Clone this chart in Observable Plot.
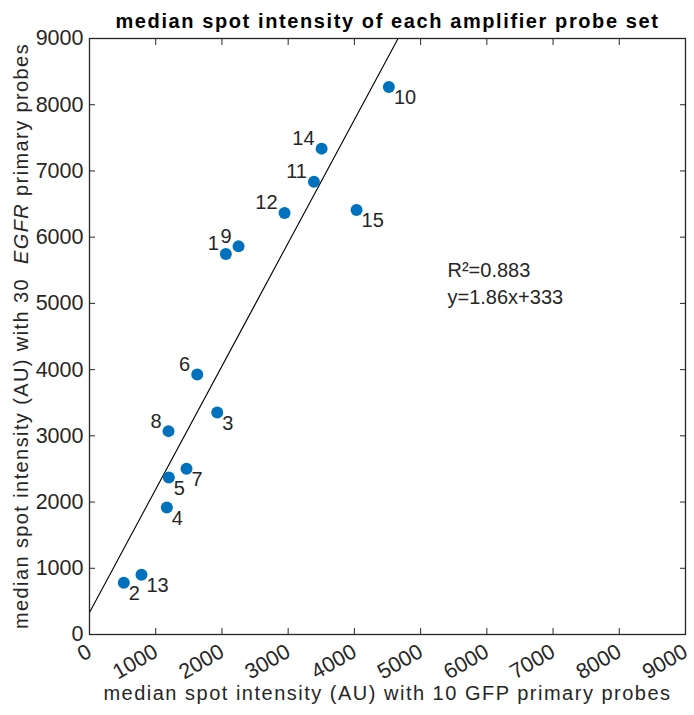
<!DOCTYPE html>
<html><head><meta charset="utf-8">
<script src="https://cdn.jsdelivr.net/npm/d3@7"></script>
<script src="https://cdn.jsdelivr.net/npm/@observablehq/plot@0.6"></script>
<style>
body{margin:0;background:#fff;}
svg{font-family:"Liberation Sans",Arial,Helvetica,sans-serif;}
</style>
</head><body><div id="chart"></div>
<script>
// Probe set ids and median spot intensities (AU)
const ids  = [1, 2, 3, 4, 5, 6, 7, 8, 9, 10, 11, 12, 13, 14, 15];
const gfp  = [2059, 518, 1929, 1168, 1198, 1627, 1465, 1193, 2251, 4521, 3389, 2946, 785, 3505, 4033];
const egfr = [5745, 781, 3353, 1918, 2372, 3927, 2503, 3071, 5861, 8267, 6838, 6364, 902, 7337, 6410];
// labels placed up-left of their point (the rest go down-right)
const leftLabelIds = [1, 6, 8, 9, 11, 12, 14];
// fit
const fitSlope = 1.86;
const fitIntercept = 333;
const fitText = ["R²=0.883", "y=1.86x+333"];
const annotX = 5406, annotY = 4998;
// ticks
const xTicks = [0, 1000, 2000, 3000, 4000, 5000, 6000, 7000, 8000, 9000];
const yTicks = [0, 1000, 2000, 3000, 4000, 5000, 6000, 7000, 8000, 9000];
const title = "median spot intensity of each amplifier probe set";
const xLabel = "median spot intensity (AU) with 10 GFP primary probes";
const yLabelParts = [["median spot intensity (AU) with 30  ", false], ["EGFR", true], [" primary probes", false]];

const points = ids.map((id, i) => ({id, gfp: gfp[i], egfr: egfr[i], left: leftLabelIds.includes(id)}));
const fitLine = [0, 9000].map(x => ({x, y: fitSlope * x + fitIntercept}));
const axisColor = "#262626";
const fmt = d => String(d);
const blank = () => "";

const chart = Plot.plot({
  width: 694, height: 715,
  marginLeft: 89, marginRight: 9, marginTop: 38, marginBottom: 81,
  x: {domain: [0, 9000]},
  y: {domain: [0, 9000]},
  style: {fontFamily: '"Liberation Sans",Arial,Helvetica,sans-serif', fontSize: "20px", color: axisColor, background: "white"},
  marks: [
    Plot.line(fitLine, {x: "x", y: "y", stroke: "black", strokeWidth: 1.1, clip: true}),
    Plot.dot(points, {x: "gfp", y: "egfr", r: 6, fill: "#0072BD", stroke: null}),
    Plot.text(points.filter(d => d.left), {x: "gfp", y: "egfr", text: "id", textAnchor: "end", dx: -7, dy: -10, fontSize: 20, fill: axisColor}),
    Plot.text(points.filter(d => !d.left), {x: "gfp", y: "egfr", text: "id", textAnchor: "start", dx: 5, dy: 11, fontSize: 20, fill: axisColor}),
    Plot.text([fitText.join("\n")], {x: () => annotX, y: () => annotY, textAnchor: "start", lineAnchor: "bottom", lineHeight: 1.35, fontSize: 20, fill: axisColor, style: "letter-spacing:0.5px"}),
    Plot.frame({stroke: axisColor, strokeWidth: 1.3}),
    // inside ticks on all four sides
    Plot.axisX(xTicks, {anchor: "bottom", tickSize: -6, tickFormat: blank, label: null, stroke: axisColor}),
    Plot.axisX(xTicks, {anchor: "top", tickSize: -6, tickFormat: blank, label: null, stroke: axisColor}),
    Plot.axisY(yTicks, {anchor: "left", tickSize: -6, tickFormat: blank, label: null, stroke: axisColor}),
    Plot.axisY(yTicks, {anchor: "right", tickSize: -6, tickFormat: blank, label: null, stroke: axisColor}),
    // tick labels
    Plot.text(xTicks, {x: d => d, frameAnchor: "bottom", text: fmt, rotate: -30, textAnchor: "end", lineAnchor: "top", dx: -4, dy: 8, fontSize: 21.5, fill: axisColor}),
    Plot.text(yTicks, {y: d => d, frameAnchor: "left", text: fmt, textAnchor: "end", lineAnchor: "middle", dx: -6, fontSize: 21.5, fill: axisColor}),
    Plot.text([title], {frameAnchor: "top", dy: -11, lineAnchor: "bottom", fontWeight: "bold", fontSize: 20, fill: "black", className: "ttl"}),
    Plot.text([xLabel], {frameAnchor: "bottom", dy: 65, lineAnchor: "bottom", fontSize: 20, fill: axisColor, className: "xlab"})
  ]
});
document.getElementById("chart").appendChild(chart);

const svg = d3.select(chart);
svg.selectAll(".ttl text").style("letter-spacing", "1.6px");
svg.selectAll(".xlab text").style("letter-spacing", "1.5px");
// y-axis label with italic gene name
const yl = svg.append("text")
  .attr("transform", `translate(28,${(38 + 634) / 2}) rotate(-90)`)
  .attr("text-anchor", "middle")
  .attr("font-size", 20)
  .attr("fill", axisColor)
  .style("letter-spacing", "1.4px")
  .style("white-space", "pre");
yLabelParts.forEach(([t, it]) => {
  yl.append("tspan").attr("font-style", it ? "italic" : null).text(t);
});
</script>
</body></html>
